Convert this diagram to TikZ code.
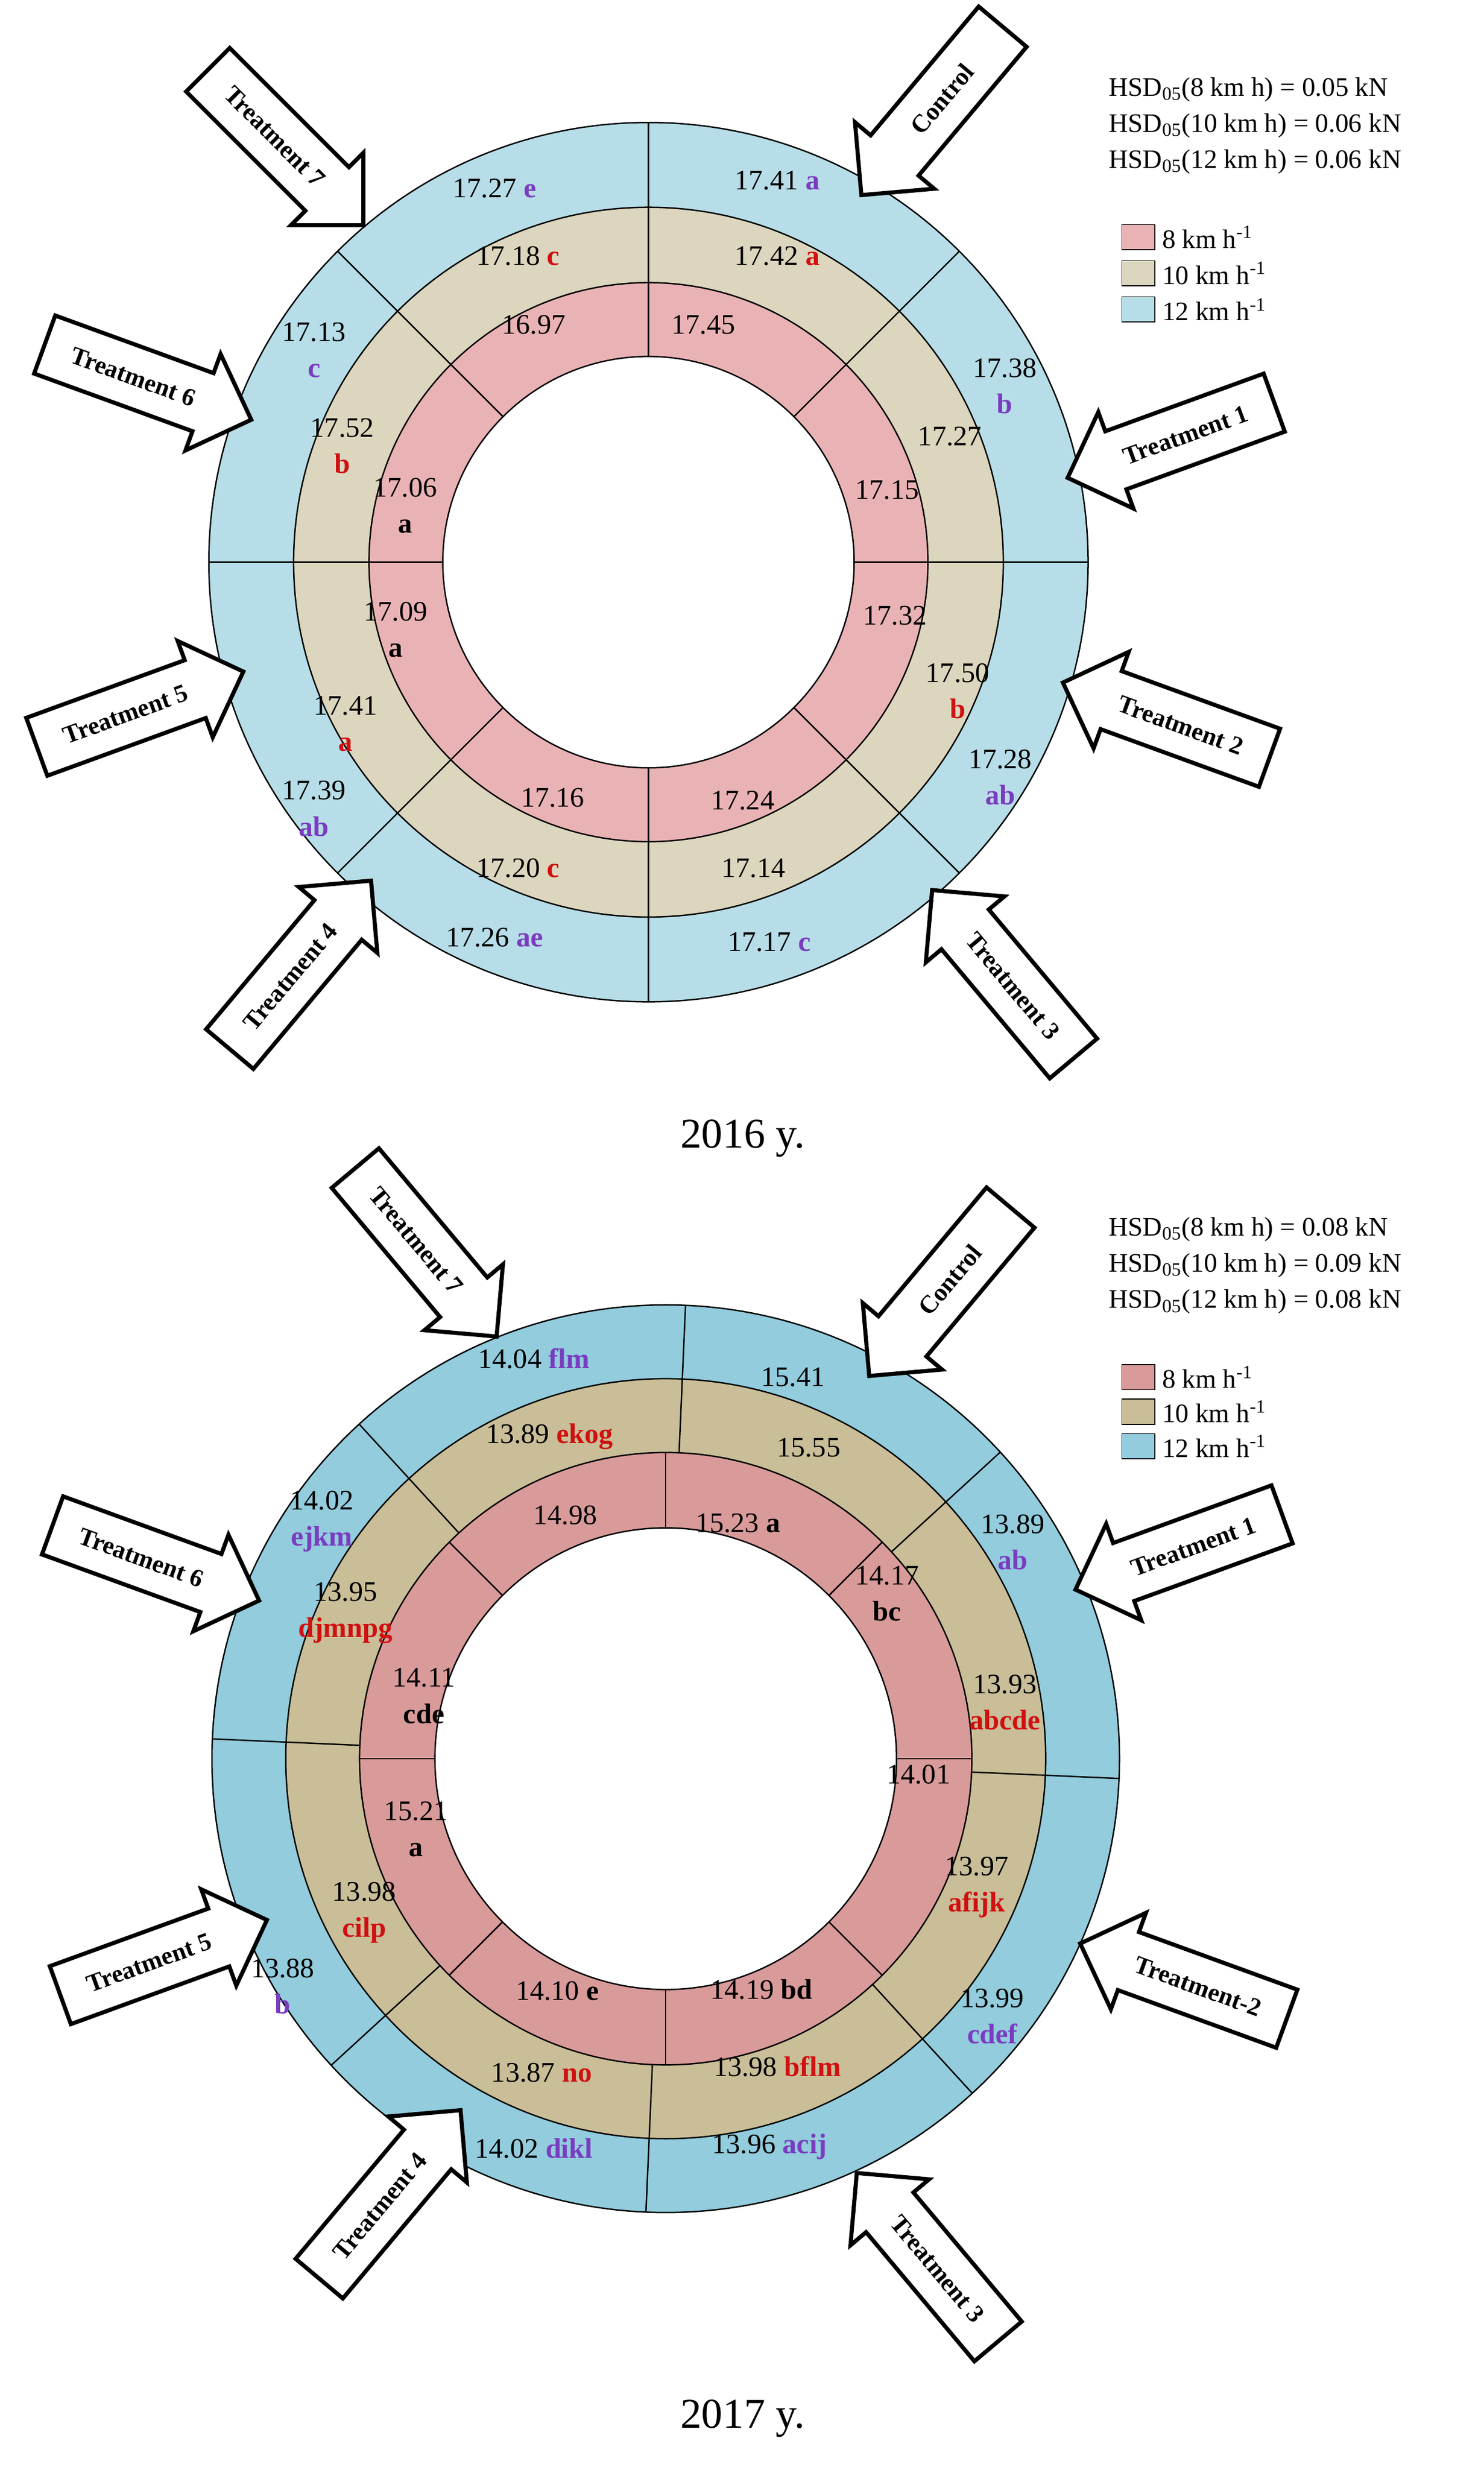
\documentclass[tikz,border=0pt]{standalone}
\usepackage{fontspec}
\setmainfont{Liberation Serif}
\usetikzlibrary{shapes.arrows}
\definecolor{pkA}{HTML}{E9B3B5}\definecolor{tnA}{HTML}{DDD6BE}\definecolor{blA}{HTML}{B7DEE8}
\definecolor{pkB}{HTML}{D99A9A}\definecolor{tnB}{HTML}{C9BE98}\definecolor{blB}{HTML}{92CCDD}
\definecolor{redl}{HTML}{D01010}\definecolor{purl}{HTML}{7A3CC0}
\newcommand\lr[1]{\textbf{\color{redl}#1}}
\newcommand\lp[1]{\textbf{\color{purl}#1}}
\newcommand\lk[1]{\textbf{#1}}
\newcounter{lb}
\newcommand\lab[3]{\stepcounter{lb}\node[lbl] (lb\thelb) at (#1,#2) {#3};}
\newcommand\arr[5]{\node[blockarrow,rotate=#3,#4] (#5) at (#1,#2) {Treatment #5};}
\tikzset{
 lbl/.style={font=\fontsize{18}{23}\selectfont,align=center,inner sep=0pt},
 blockarrow/.style={single arrow,draw,line width=2.6pt,fill=white,font=\fontsize{16}{16}\selectfont\bfseries,
   inner xsep=6pt,inner ysep=13pt,single arrow head extend=13pt,minimum height=140pt},
 flip/.style={shape border rotate=180},
 hsd/.style={font=\fontsize{17}{17}\selectfont,anchor=west,inner sep=0pt},
 sw/.style={draw,line width=0.6pt,minimum width=21pt,minimum height=16pt,inner sep=0pt},
 ring/.style={line width=0.9pt},
 captext/.style={font=\fontsize{27}{27}\selectfont}
}
\begin{document}
\begin{tikzpicture}[x=1pt,y=-1pt]
\useasboundingbox (0,0) rectangle (945,1573);
% ---------- 2016 ----------
\begin{scope}[shift={(413,358)}]
\fill[blA] (0,0) circle[radius=280];
\fill[tnA] (0,0) circle[radius=226];
\fill[pkA] (0,0) circle[radius=178];
\fill[white] (0,0) circle[radius=131];
\foreach \r in {131,178,226,280} \draw[ring] (0,0) circle[radius=\r];
\foreach \a in {0,45,...,315} \draw[ring] (\a:131) -- (\a:280);
\end{scope}
\lab{495}{115}{17.41 \lp{a}}
\lab{640}{246}{17.38\\\lp{b}}
\lab{637}{495}{17.28\\\lp{ab}}
\lab{490}{600}{17.17 \lp{c}}
\lab{315}{597}{17.26 \lp{ae}}
\lab{200}{515}{17.39\\\lp{ab}}
\lab{200}{223}{17.13\\\lp{c}}
\lab{315}{120}{17.27 \lp{e}}
\lab{495}{163}{17.42 \lr{a}}
\lab{605}{278}{17.27}
\lab{610}{440}{17.50\\\lr{b}}
\lab{480}{553}{17.14}
\lab{330}{553}{17.20 \lr{c}}
\lab{220}{461}{17.41\\\lr{a}}
\lab{218}{284}{17.52\\\lr{b}}
\lab{330}{163}{17.18 \lr{c}}
\lab{448}{207}{17.45}
\lab{565}{312}{17.15}
\lab{570}{392}{17.32}
\lab{473}{510}{17.24}
\lab{352}{508}{17.16}
\lab{252}{401}{17.09\\\lk{a}}
\lab{258}{322}{17.06\\\lk{a}}
\lab{340}{207}{16.97}
\node[blockarrow,rotate=50,flip] (ctrlA) at (600,63) {Control};
\arr{755}{277}{20}{flip}{1}
\arr{752}{462}{-20}{flip}{2}
\arr{645}{628}{-50}{flip}{3}
\arr{185}{622}{50}{}{4}
\arr{80}{455}{20}{}{5}
\arr{85}{240}{-20}{}{6}
\arr{175}{87}{-45}{}{7}
\node[hsd] (hA1) at (706,57) {HSD\textsubscript{05}(8 km h) = 0.05 kN};
\node[hsd] (hA2) at (706,80) {HSD\textsubscript{05}(10 km h) = 0.06 kN};
\node[hsd] (hA3) at (706,103) {HSD\textsubscript{05}(12 km h) = 0.06 kN};
\node[sw,fill=pkA] (sA1) at (725,151) {};
\node[sw,fill=tnA] (sA2) at (725,174) {};
\node[sw,fill=blA] (sA3) at (725,197) {};
\node[hsd] (gA1) at (740,151) {8 km h\textsuperscript{-1}};
\node[hsd] (gA2) at (740,174) {10 km h\textsuperscript{-1}};
\node[hsd] (gA3) at (740,197) {12 km h\textsuperscript{-1}};
\node[captext] (capA) at (473,725) {2016 y.};
% ---------- 2017 ----------
\begin{scope}[shift={(424,1120)}]
\fill[blB] (0,0) circle[radius=289];
\fill[tnB] (0,0) circle[radius=242];
\fill[pkB] (0,0) circle[radius=195];
\fill[white] (0,0) circle[radius=147];
\foreach \r in {147,195,242,289} \draw[ring] (0,0) circle[radius=\r];
\foreach \a in {0,45,...,315} {\draw[ring] (\a:147) -- (\a:195);
  \draw[ring] (\a+2.5:195) -- (\a+2.5:289);}
\end{scope}
\lab{505}{877}{15.41}
\lab{645}{982}{13.89\\\lp{ab}}
\lab{632}{1284}{13.99\\\lp{cdef}}
\lab{490}{1367}{13.96 \lp{acij}}
\lab{340}{1368}{14.02 \lp{dikl}}
\lab{180}{1265}{13.88\\\lp{b}}
\lab{205}{969}{14.02\\\lp{ejkm}}
\lab{340}{865}{14.04 \lp{flm}}
\lab{515}{922}{15.55}
\lab{640}{1084}{13.93\\\lr{abcde}}
\lab{622}{1202}{13.97\\\lr{afijk}}
\lab{495}{1316}{13.98 \lr{bflm}}
\lab{345}{1320}{13.87 \lr{no}}
\lab{232}{1218}{13.98\\\lr{cilp}}
\lab{220}{1027}{13.95\\\lr{djmnpg}}
\lab{350}{915}{13.89 \lr{ekog}}
\lab{470}{970}{15.23 \lk{a}}
\lab{565}{1015}{14.17\\\lk{bc}}
\lab{585}{1130}{14.01}
\lab{485}{1267}{14.19 \lk{bd}}
\lab{355}{1268}{14.10 \lk{e}}
\lab{265}{1165}{15.21\\\lk{a}}
\lab{270}{1080}{14.11\\\lk{cde}}
\lab{360}{965}{14.98}
\node[blockarrow,rotate=50,flip] (ctrlB) at (605,815) {Control};
\node[blockarrow,rotate=20,flip] (b1) at (760,985) {Treatment 1};
\node[blockarrow,rotate=-20,flip] (b2) at (763,1265) {Treatment-2};
\node[blockarrow,rotate=-50,flip] (b3) at (597,1445) {Treatment 3};
\node[blockarrow,rotate=50] (b4) at (242,1405) {Treatment 4};
\node[blockarrow,rotate=20] (b5) at (95,1250) {Treatment 5};
\node[blockarrow,rotate=-20] (b6) at (90,992) {Treatment 6};
\node[blockarrow,rotate=-50] (b7) at (265,790) {Treatment 7};
\node[hsd] (hB1) at (706,783) {HSD\textsubscript{05}(8 km h) = 0.08 kN};
\node[hsd] (hB2) at (706,806) {HSD\textsubscript{05}(10 km h) = 0.09 kN};
\node[hsd] (hB3) at (706,829) {HSD\textsubscript{05}(12 km h) = 0.08 kN};
\node[sw,fill=pkB] (sB1) at (725,877) {};
\node[sw,fill=tnB] (sB2) at (725,899) {};
\node[sw,fill=blB] (sB3) at (725,921) {};
\node[hsd] (gB1) at (740,877) {8 km h\textsuperscript{-1}};
\node[hsd] (gB2) at (740,899) {10 km h\textsuperscript{-1}};
\node[hsd] (gB3) at (740,921) {12 km h\textsuperscript{-1}};
\node[captext] (capB) at (473,1540) {2017 y.};
\end{tikzpicture}
\end{document}
